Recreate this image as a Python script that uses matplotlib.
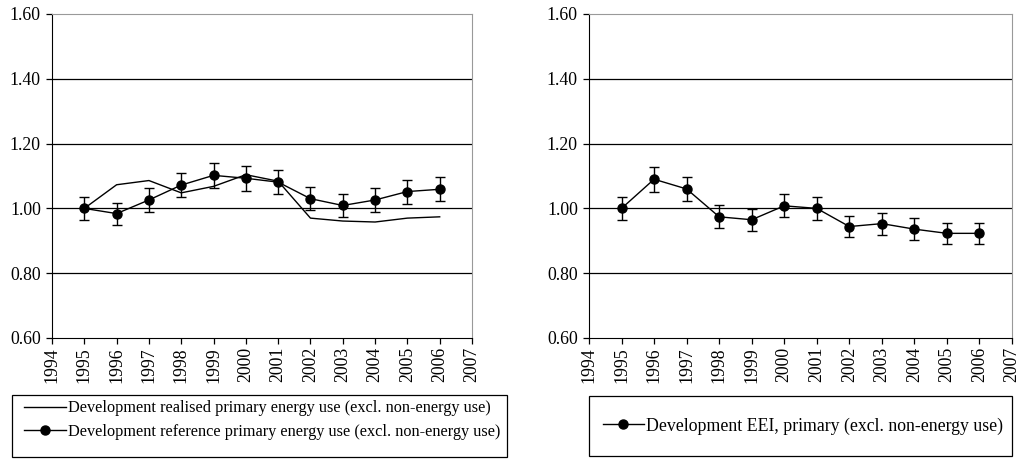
import matplotlib
matplotlib.use("Agg")
import matplotlib.pyplot as plt
from matplotlib.patches import Rectangle
from matplotlib.lines import Line2D

years = [1995, 1996, 1997, 1998, 1999, 2000, 2001, 2002, 2003, 2004, 2005, 2006]
realised = [1.000, 1.073, 1.086, 1.048, 1.068, 1.104, 1.084, 0.970, 0.961, 0.958, 0.970, 0.974]
reference = [1.000, 0.984, 1.026, 1.072, 1.102, 1.093, 1.081, 1.030, 1.009, 1.026, 1.052, 1.059]
reference_err = [0.036, 0.034, 0.036, 0.038, 0.038, 0.038, 0.038, 0.036, 0.035, 0.036, 0.037, 0.037]
eei = [1.000, 1.090, 1.060, 0.974, 0.965, 1.008, 1.000, 0.944, 0.953, 0.936, 0.923, 0.923]
eei_err = [0.035, 0.039, 0.038, 0.035, 0.034, 0.036, 0.035, 0.033, 0.034, 0.033, 0.032, 0.032]
x_ticks = list(range(1994, 2008))
y_ticks = [0.60, 0.80, 1.00, 1.20, 1.40, 1.60]

label_realised = "Development realised primary energy use (excl. non-energy use)"
label_reference = "Development reference primary energy use (excl. non-energy use)"
label_eei = "Development EEI, primary (excl. non-energy use)"

plt.rcParams['font.family'] = ['Liberation Serif', 'DejaVu Serif']
FS = 12.8
LFS_LEFT = 11.7
LFS_RIGHT = 12.8

W, H = 1019, 459
fig = plt.figure(figsize=(W / 100, H / 100), dpi=100)

def px_axes(x0, y0, x1, y1):
    return fig.add_axes([x0 / W, 1 - y1 / H, (x1 - x0) / W, (y1 - y0) / H])

def style(ax):
    ax.set_xlim(1994, 2007)
    ax.set_ylim(0.6, 1.6)
    ax.set_xticks(x_ticks)
    ax.set_xticklabels([str(y) for y in x_ticks], rotation=90, fontsize=FS)
    ax.set_yticks(y_ticks)
    ax.set_yticklabels(["%.2f" % v for v in y_ticks], fontsize=FS)
    for v in y_ticks[1:-1]:
        ax.axhline(v, color='black', lw=0.9, zorder=1)
    ax.spines['top'].set_color('#999999')
    ax.spines['right'].set_color('#999999')
    ax.spines['left'].set_color('black')
    ax.spines['bottom'].set_color('black')
    ax.tick_params(axis='y', direction='out', length=4, width=0.9, color='black', pad=4)
    ax.tick_params(axis='x', direction='out', length=4.5, width=0.9, color='black', pad=2)

ax1 = px_axes(52, 14, 472, 338)
style(ax1)
ax1.plot(years, realised, color='black', lw=1.0, zorder=3)
ax1.errorbar(years, reference, yerr=reference_err, color='black', lw=1.0, marker='o',
             markersize=6.5, capsize=3.8, elinewidth=1.0, capthick=1.0, zorder=4)

ax2 = px_axes(589, 14, 1012, 338)
style(ax2)
ax2.errorbar(years, eei, yerr=eei_err, color='black', lw=1.0, marker='o',
             markersize=6.5, capsize=3.8, elinewidth=1.0, capthick=1.0, zorder=4)

# Legend boxes
def box(x0, y0, x1, y1):
    r = Rectangle((x0 / W, 1 - y1 / H), (x1 - x0) / W, (y1 - y0) / H,
                  transform=fig.transFigure, fill=False, edgecolor='black', lw=0.9)
    fig.patches.append(r)

box(12, 395, 507, 457)
box(589, 396, 1012, 456)

h_line = Line2D([], [], color='black', lw=1.0)
h_mark = Line2D([], [], color='black', lw=1.0, marker='o', markersize=6.5)

fig.legend([h_line, h_mark], [label_realised, label_reference],
           loc='center left', bbox_to_anchor=(24 / W, 1 - 420 / H),
           frameon=False, fontsize=LFS_LEFT, handlelength=2.6, handletextpad=0.1,
           borderpad=0, borderaxespad=0, labelspacing=0.45)
fig.legend([h_mark], [label_eei],
           loc='center left', bbox_to_anchor=(603 / W, 1 - 426 / H),
           frameon=False, fontsize=LFS_RIGHT, handlelength=2.3, handletextpad=0.1,
           borderpad=0, borderaxespad=0)

fig.savefig("out.png", dpi=100)
